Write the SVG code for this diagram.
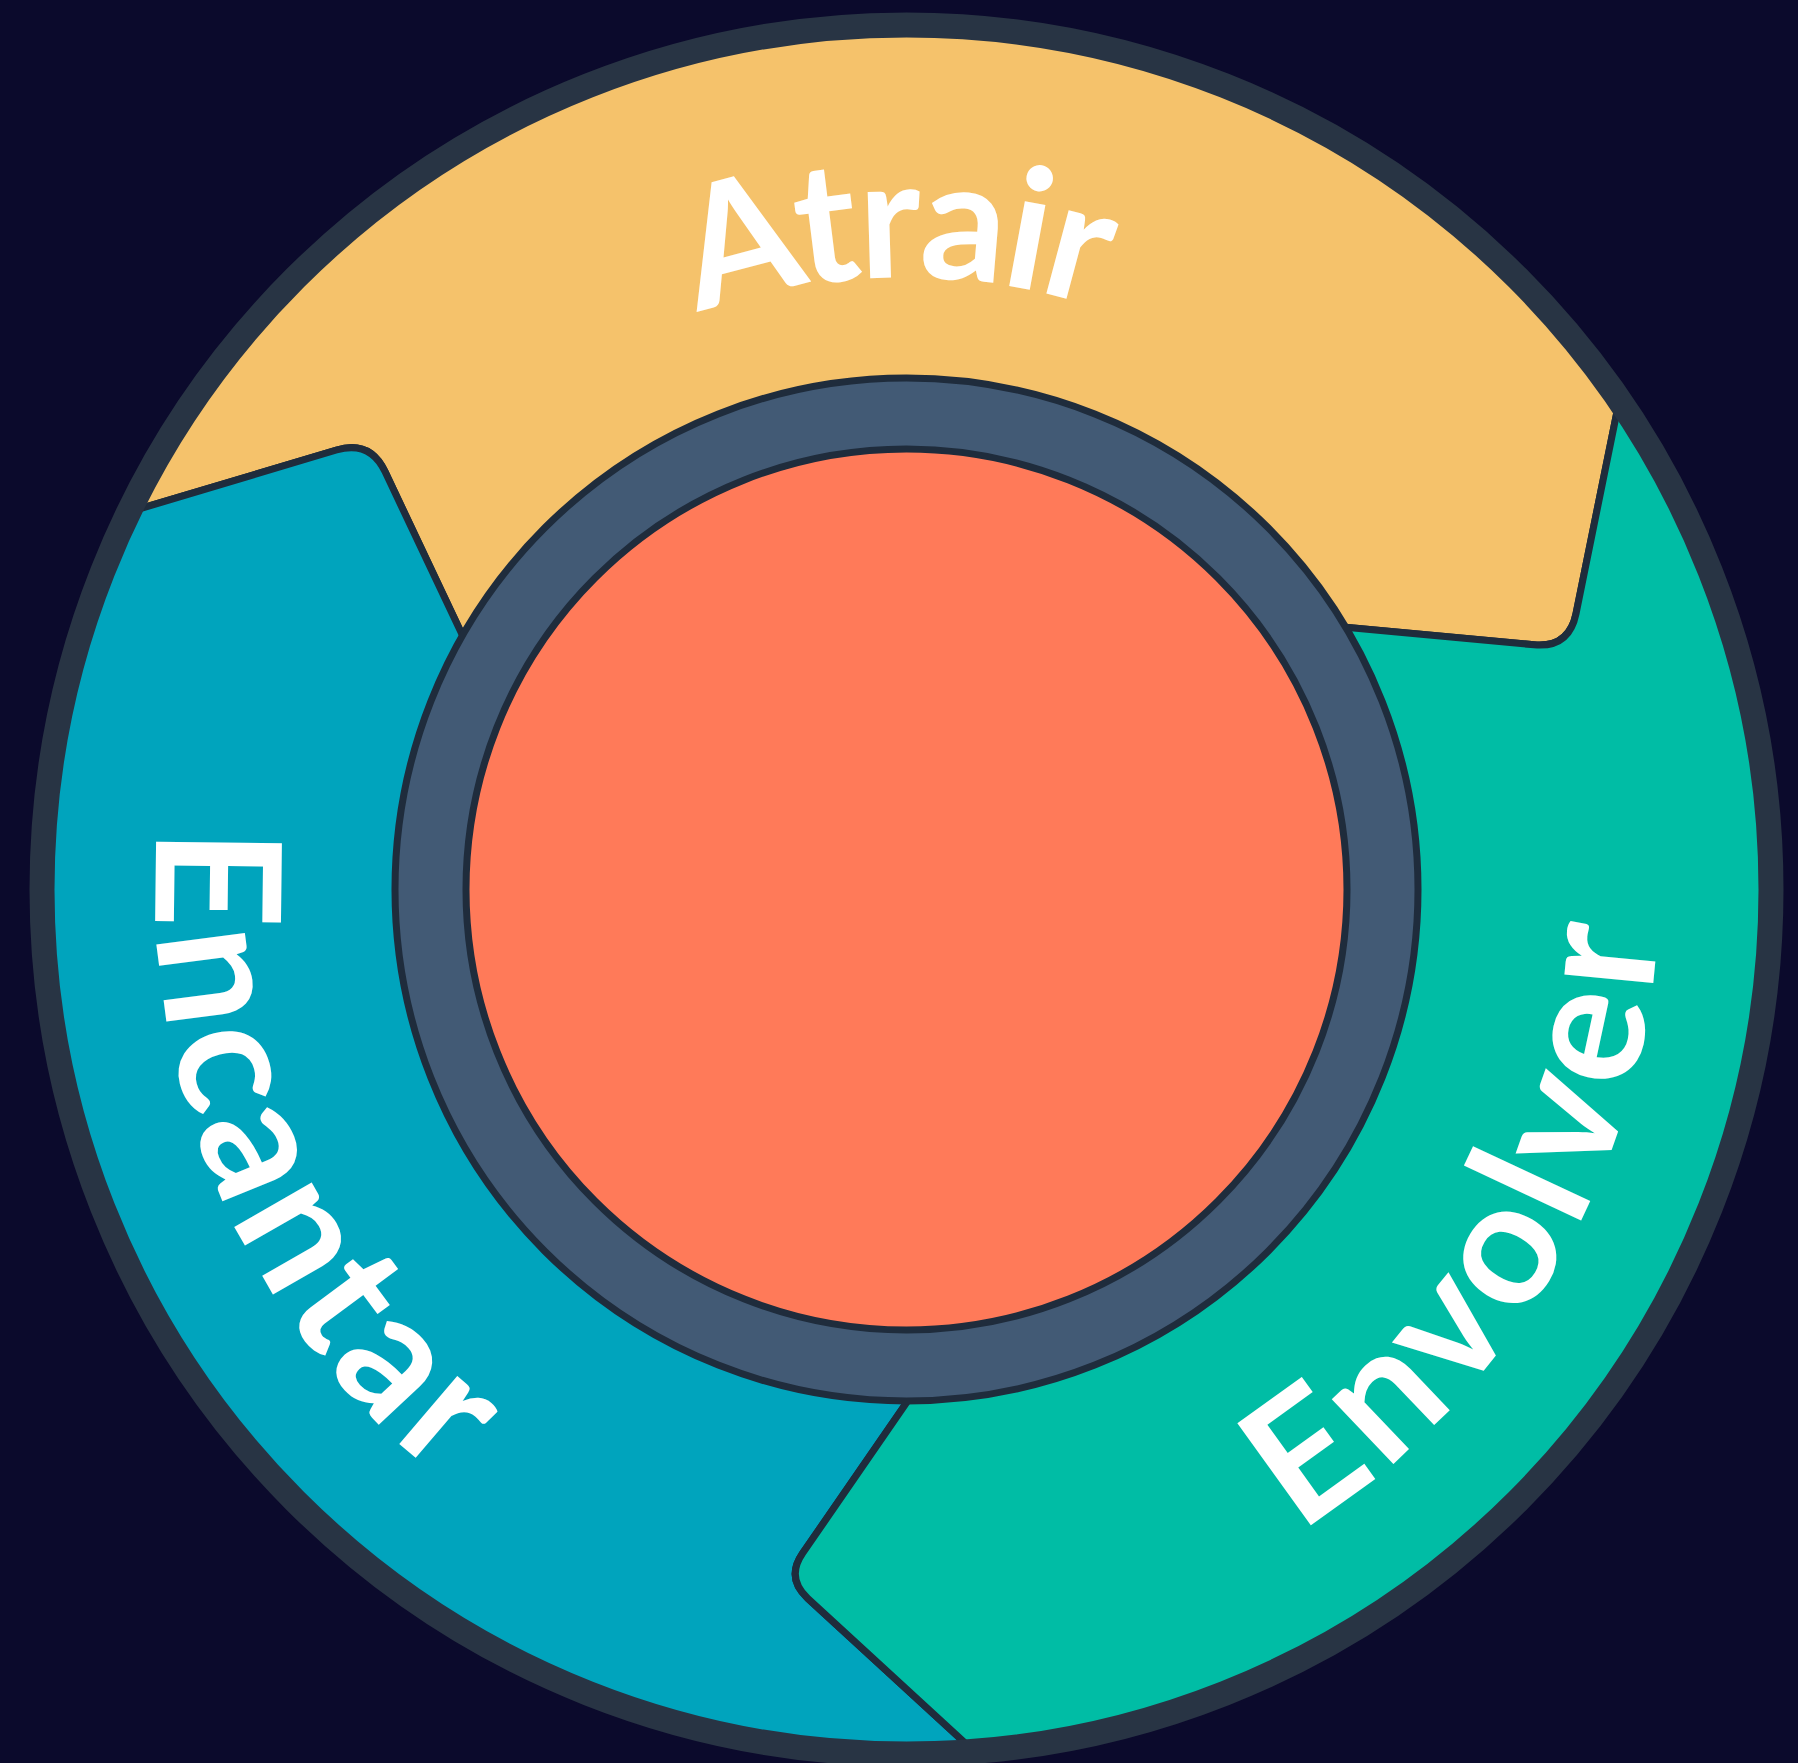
<svg xmlns="http://www.w3.org/2000/svg" width="1798" height="1763" viewBox="0 0 1798 1763">
  <style>
    .seg { stroke: #1f2c3c; stroke-width: 7; stroke-linejoin: round; }
    .lbl { font-family: Lato, "Open Sans", "Liberation Sans", sans-serif; font-weight: 700; fill: #ffffff; }
    .top { font-size: 168px; letter-spacing: -4px; }
    .side { font-size: 174px; letter-spacing: 8px; }
  </style>
  <defs>
    <clipPath id="wheel">
      <circle cx="906.5" cy="889.5" r="856"/>
    </clipPath>
    <path id="pAtrair" d="M 294.5 889.5 A 612 612 0 0 1 1518.5 889.5"/>
    <path id="pEncantar" d="M 603.5 202.3 A 751 751 0 0 0 1209.5 1576.7"/>
    <path id="pEnvolver" d="M 519.8 1546.0 A 762 762 0 0 0 1293.2 233.0"/>
  </defs>
  <rect width="1798" height="1763" fill="#0b0a2c"/>
  <g clip-path="url(#wheel)">
    <g id="atrair">
      <path class="seg" fill="#f5c26b" d="M 89.2 523.9 L 89 -100 L 1700 -100 L 1700 300 L 1628.6 354.5 L 1576 613.7 Q 1569 648 1534.1 644.8 L 1313.2 624.3 L 477.1 666.2 L 385 471.6 Q 370 440 336.5 450 Z"/>
    </g>
    <g id="encantar">
      <path class="seg" fill="#00a4bd" d="M 477.1 666.2 L 385 471.6 Q 370 440 336.5 450 L 89.2 523.9 L -100 523 L -100 1800 L 1004.2 1778.9 L 807.7 1598.3 Q 785.6 1578 802.6 1553.3 L 927.7 1372.1 Z"/>
    </g>
    <g id="envolver">
      <path class="seg" fill="#00bda5" d="M 1313.2 624.3 L 1534.1 644.8 Q 1569 648 1576 613.7 L 1628.6 354.5 L 1700 300 L 1900 300 L 1900 1900 L 1004.2 1778.9 L 807.7 1598.3 Q 785.6 1578 802.6 1553.3 L 927.7 1372.1 Z"/>
    </g>
  </g>
  <g id="rim">
    <circle cx="906.5" cy="889.5" r="864.5" fill="none" stroke="#283444" stroke-width="25"/>
  </g>
  <g id="hub">
    <circle cx="906.5" cy="889.5" r="511.5" fill="#425a75" stroke="#1f2c3c" stroke-width="7"/>
    <circle cx="906.5" cy="889.5" r="440.5" fill="#ff7a59" stroke="#1f2c3c" stroke-width="7"/>
  </g>
  <g id="labels">
    <text class="lbl top"><textPath href="#pAtrair" startOffset="49.4%" text-anchor="middle">Atrair</textPath></text>
    <text class="lbl side"><textPath href="#pEncantar" startOffset="50%" text-anchor="middle">Encantar</textPath></text>
    <text class="lbl side"><textPath href="#pEnvolver" startOffset="50%" text-anchor="middle">Envolver</textPath></text>
  </g>
  <g id="connectors"/>
</svg>
